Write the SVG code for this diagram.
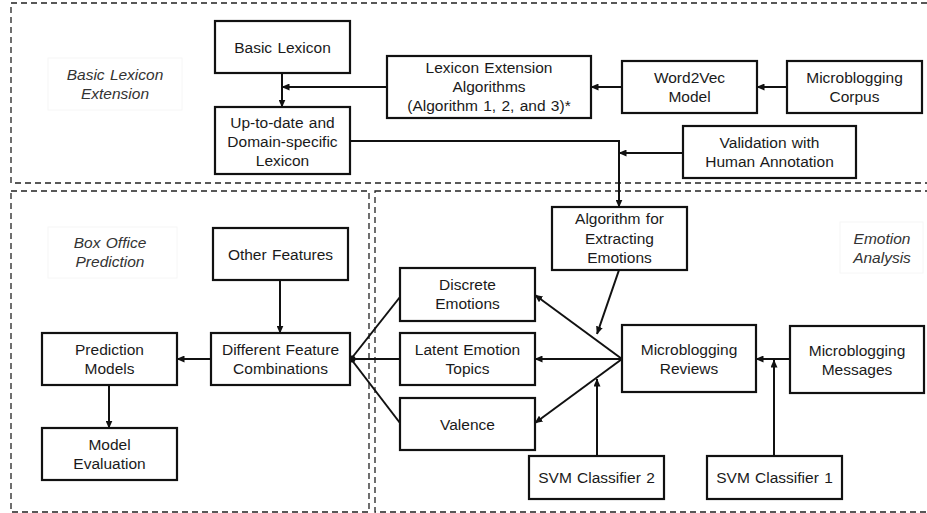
<svg xmlns="http://www.w3.org/2000/svg" width="927" height="513" viewBox="0 0 927 513">
<style>
.bg{fill:#fff}
.region{fill:none;stroke:#222;stroke-width:1.3;stroke-dasharray:6 4}
.lab{fill:#fff;stroke:#f6f6f6;stroke-width:1}
.box{fill:#fff;stroke:#111;stroke-width:2.2}
text{font-family:"Liberation Sans",Arial,sans-serif;font-size:15.5px;fill:#1a1a1a;text-anchor:middle;word-spacing:1px}
.it{font-style:italic;fill:#333}
.c{fill:none;stroke:#111;stroke-width:2}
</style>
<defs>
<marker id="ah" markerUnits="userSpaceOnUse" markerWidth="8" markerHeight="7" refX="7.5" refY="3.5" orient="auto">
<path d="M0,0 L8,3.5 L0,7 z" fill="#111"/>
</marker>
</defs>
<rect class="bg" x="0" y="0" width="927" height="513"/>
<g id="regions">
<rect class="region" x="11" y="3" width="925" height="180"/>
<rect class="region" x="11" y="191" width="358" height="321"/>
<rect class="region" x="375" y="191" width="560" height="321"/>
</g>
<g id="labels">
<rect class="lab" x="48" y="58" width="134" height="52"/>
<text class="it" x="115" y="80">Basic Lexicon</text>
<text class="it" x="115" y="99">Extension</text>
<rect class="lab" x="48" y="227" width="129" height="51"/>
<text class="it" x="110" y="248">Box Office</text>
<text class="it" x="110" y="267">Prediction</text>
<rect class="lab" x="840" y="222" width="83" height="51"/>
<text class="it" x="882" y="244">Emotion</text>
<text class="it" x="882" y="263">Analysis</text>
</g>
<g id="connectors">
<line class="c" x1="282" y1="73" x2="282" y2="107" marker-end="url(#ah)"/>
<line class="c" x1="387" y1="87" x2="282" y2="87" marker-end="url(#ah)"/>
<line class="c" x1="622" y1="87" x2="591" y2="87" marker-end="url(#ah)"/>
<line class="c" x1="787" y1="87" x2="757" y2="87" marker-end="url(#ah)"/>
<path class="c" d="M350,141 H619 V207" marker-end="url(#ah)"/>
<line class="c" x1="683" y1="153" x2="619" y2="153" marker-end="url(#ah)"/>
<line class="c" x1="280" y1="280" x2="280" y2="333" marker-end="url(#ah)"/>
<line class="c" x1="211" y1="359" x2="177" y2="359" marker-end="url(#ah)"/>
<line class="c" x1="109" y1="385" x2="109" y2="428" marker-end="url(#ah)"/>
<line class="c" x1="400" y1="297" x2="351" y2="359"/>
<line class="c" x1="400" y1="359" x2="351" y2="359"/>
<line class="c" x1="400" y1="423" x2="351" y2="359"/>
<circle cx="352" cy="359" r="3.5" fill="#111"/>
<line class="c" x1="622" y1="359" x2="535" y2="295" marker-end="url(#ah)"/>
<line class="c" x1="622" y1="359" x2="535" y2="359" marker-end="url(#ah)"/>
<line class="c" x1="622" y1="359" x2="535" y2="423" marker-end="url(#ah)"/>
<line class="c" x1="619" y1="270" x2="597" y2="334" marker-end="url(#ah)"/>
<line class="c" x1="597" y1="456" x2="597" y2="379" marker-end="url(#ah)"/>
<line class="c" x1="790" y1="359" x2="756" y2="359" marker-end="url(#ah)"/>
<line class="c" x1="774" y1="456" x2="774" y2="360" marker-end="url(#ah)"/>
</g>
<g id="basic"><rect class="box" x="215" y="21" width="135" height="52"/><text x="282.5" y="52.5">Basic Lexicon</text></g>
<g id="lexext"><rect class="box" x="387" y="56" width="204" height="62"/><text x="489" y="73">Lexicon Extension</text><text x="489" y="92">Algorithms</text><text x="489" y="111">(Algorithm 1, 2, and 3)*</text></g>
<g id="w2v"><rect class="box" x="622" y="61" width="135" height="52"/><text x="689.5" y="83">Word2Vec</text><text x="689.5" y="102">Model</text></g>
<g id="corpus"><rect class="box" x="787" y="61" width="135" height="52"/><text x="854.5" y="83">Microblogging</text><text x="854.5" y="102">Corpus</text></g>
<g id="uptodate"><rect class="box" x="215" y="107" width="135" height="67"/><text x="282.5" y="128">Up-to-date and</text><text x="282.5" y="147">Domain-specific</text><text x="282.5" y="166">Lexicon</text></g>
<g id="validation"><rect class="box" x="683" y="126" width="173" height="52"/><text x="769.5" y="148">Validation with</text><text x="769.5" y="167">Human Annotation</text></g>
<g id="algorithm"><rect class="box" x="552" y="207" width="135" height="63"/><text x="619.5" y="224">Algorithm for</text><text x="619.5" y="243.5">Extracting</text><text x="619.5" y="262.5">Emotions</text></g>
<g id="other"><rect class="box" x="213" y="228" width="135" height="52"/><text x="280.5" y="259.5">Other Features</text></g>
<g id="diff"><rect class="box" x="211" y="333" width="139" height="52"/><text x="280.5" y="355">Different Feature</text><text x="280.5" y="374">Combinations</text></g>
<g id="pred"><rect class="box" x="42" y="333" width="135" height="52"/><text x="109.5" y="355">Prediction</text><text x="109.5" y="374">Models</text></g>
<g id="eval"><rect class="box" x="42" y="428" width="135" height="52"/><text x="109.5" y="450">Model</text><text x="109.5" y="469">Evaluation</text></g>
<g id="discrete"><rect class="box" x="400" y="268" width="135" height="53"/><text x="467.5" y="290">Discrete</text><text x="467.5" y="309">Emotions</text></g>
<g id="latent"><rect class="box" x="400" y="333" width="135" height="52"/><text x="467.5" y="355">Latent Emotion</text><text x="467.5" y="374">Topics</text></g>
<g id="valence"><rect class="box" x="400" y="398" width="135" height="52"/><text x="467.5" y="429.5">Valence</text></g>
<g id="reviews"><rect class="box" x="622" y="325" width="134" height="67"/><text x="689" y="355">Microblogging</text><text x="689" y="374">Reviews</text></g>
<g id="messages"><rect class="box" x="790" y="326" width="134" height="67"/><text x="857" y="356">Microblogging</text><text x="857" y="375">Messages</text></g>
<g id="svm2"><rect class="box" x="529" y="456" width="135" height="43"/><text x="596.5" y="483">SVM Classifier 2</text></g>
<g id="svm1"><rect class="box" x="707" y="456" width="135" height="43"/><text x="774.5" y="483">SVM Classifier 1</text></g>
</svg>
